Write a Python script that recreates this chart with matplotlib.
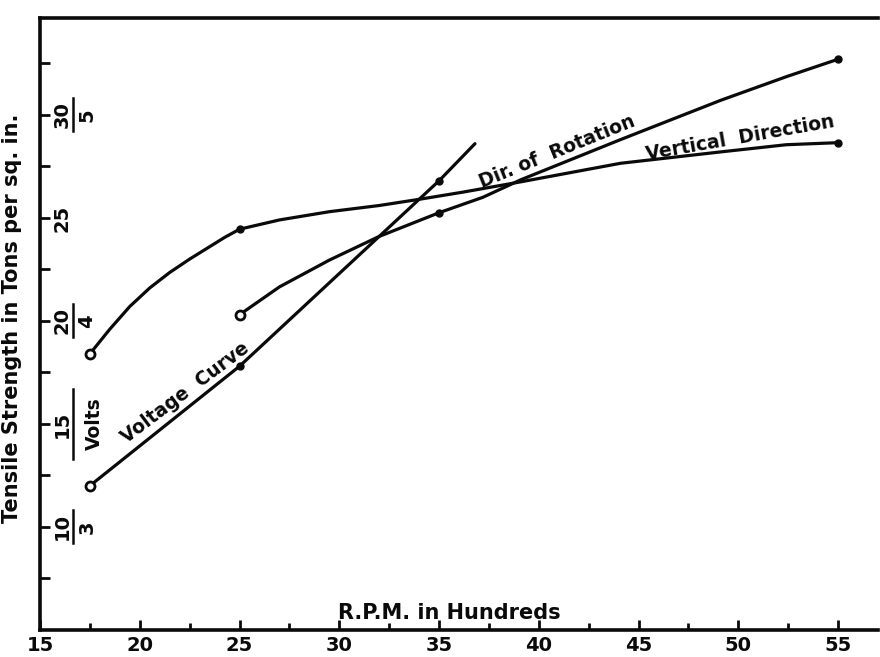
import matplotlib
matplotlib.use("Agg")
import numpy as np
import matplotlib.pyplot as plt
import matplotlib.transforms as mtransforms

# R.P.M. (hundreds) vs tensile strength (tons per sq. in.)
vert_rpm = [17.5, 18.5, 19.5, 20.5, 21.5, 22.5, 23.5, 24.25, 25.0, 27.0, 29.5, 32.0, 34.0, 36.2, 39.1, 44.1, 49.1, 52.4, 55.0]
vert_ts = [18.4, 19.6, 20.7, 21.6, 22.35, 23.0, 23.6, 24.05, 24.45, 24.9, 25.3, 25.6, 25.9, 26.25, 26.75, 27.65, 28.2, 28.55, 28.65]
vert_obs_rpm = [17.5, 25, 55]
vert_obs_ts = [18.4, 24.45, 28.65]

rot_rpm = [25.0, 27.0, 29.5, 32.0, 35.0, 37.2, 39.1, 44.1, 49.1, 52.4, 55.0]
rot_ts = [20.3, 21.65, 22.95, 24.1, 25.25, 26.0, 26.85, 28.8, 30.7, 31.85, 32.7]
rot_obs_rpm = [25, 35, 55]
rot_obs_ts = [20.3, 25.25, 32.7]

# voltage curve, in volts (3 V sits on the 10 line, 5 V on the 30 line)
volt_rpm = [17.5, 25.0, 35.0, 36.8]
volt_v = [3.2, 3.78, 4.68, 4.86]
volt_obs_rpm = [17.5, 25, 35]
volt_obs_v = [3.2, 3.78, 4.68]

x_labels = [15, 20, 25, 30, 35, 40, 45, 50, 55]
y_labels = [10, 15, 20, 25, 30]
volt_labels = {10: "3", 20: "4", 30: "5"}


def volts_to_ts(v):
    return [(val - 2) * 10 for val in v]


plt.rcParams["font.family"] = "DejaVu Sans"
plt.rcParams["font.weight"] = "bold"
plt.rcParams["axes.labelweight"] = "bold"

fig = plt.figure(figsize=(8.8, 6.57), dpi=100)
ax = fig.add_axes([40 / 880, 1 - 630 / 657, 838 / 880, 612 / 657])
ax.set_xlim(15, 57)
ax.set_ylim(5, 34.7)

ink = "#0a0a0a"
lw = 2.3

# curves
ax.plot(vert_rpm, vert_ts, color=ink, lw=lw, solid_capstyle="round", solid_joinstyle="round")
ax.plot(rot_rpm, rot_ts, color=ink, lw=lw, solid_capstyle="round", solid_joinstyle="round")
ax.plot(volt_rpm, volts_to_ts(volt_v), color=ink, lw=lw, solid_capstyle="round", solid_joinstyle="round")

# observed points: first of each curve drawn open, the rest as dots
for xs, ys in [(vert_obs_rpm, vert_obs_ts), (rot_obs_rpm, rot_obs_ts),
               (volt_obs_rpm, volts_to_ts(volt_obs_v))]:
    ax.plot(xs[:1], ys[:1], "o", ms=6.5, mfc="white", mec=ink, mew=2.0, zorder=3)
    ax.plot(xs[1:], ys[1:], "o", ms=5, mfc=ink, mec=ink, zorder=3)

# curve labels
ax.text(22.3, 16.5, "Voltage  Curve", rotation=37, rotation_mode="anchor",
        ha="center", va="center", fontsize=13.5, color=ink)
ax.text(40.9, 28.2, "Dir. of  Rotation", rotation=22, rotation_mode="anchor",
        ha="center", va="center", fontsize=13.5, color=ink)
ax.text(50.1, 28.9, "Vertical  Direction", rotation=10, rotation_mode="anchor",
        ha="center", va="center", fontsize=13.5, color=ink)

# spines
for side in ["left", "bottom", "top"]:
    ax.spines[side].set_linewidth(2.6)
    ax.spines[side].set_color(ink)
ax.spines["right"].set_visible(False)

# x axis
ax.set_xticks(x_labels)
ax.set_xticklabels([str(v) for v in x_labels], fontsize=14, fontweight="bold")
ax.set_xticks(np.arange(17.5, 57, 5), minor=True)
ax.tick_params(axis="x", which="major", direction="in", length=7, width=2, pad=4, colors=ink)
ax.tick_params(axis="x", which="minor", direction="in", length=5, width=2, colors=ink)

# y axis: ticks only, composite labels drawn by hand
ax.set_yticks(np.arange(7.5, 34, 2.5))
ax.set_yticklabels([])
ax.tick_params(axis="y", which="major", direction="in", length=7, width=2, colors=ink)

trans = mtransforms.blended_transform_factory(ax.transAxes, ax.transData)
for val in y_labels:
    ax.text(0.0265, val, str(val), transform=trans, rotation=90,
            ha="center", va="center", fontsize=14, color=ink)
    if val in volt_labels:
        ax.text(0.056, val, volt_labels[val], transform=trans, rotation=90,
                ha="center", va="center", fontsize=14, color=ink)
        ax.plot([0.039, 0.039], [val - 0.8, val + 0.8], transform=trans,
                color=ink, lw=1.8)
ax.plot([0.039, 0.039], [15 - 1.7, 15 + 1.7], transform=trans, color=ink, lw=1.8)
ax.text(0.065, 15, "Volts", transform=trans, rotation=90,
        ha="center", va="center", fontsize=13.5, color=ink)

ax.set_ylabel("Tensile Strength in Tons per sq. in.", fontsize=15, color=ink)
ax.yaxis.set_label_coords(-0.021, 0.51)
ax.set_xlabel("R.P.M. in Hundreds", fontsize=15, color=ink)
ax.xaxis.set_label_coords(0.489, 0.044)

fig.savefig("out.png", dpi=100, facecolor="white")
plt.close(fig)
